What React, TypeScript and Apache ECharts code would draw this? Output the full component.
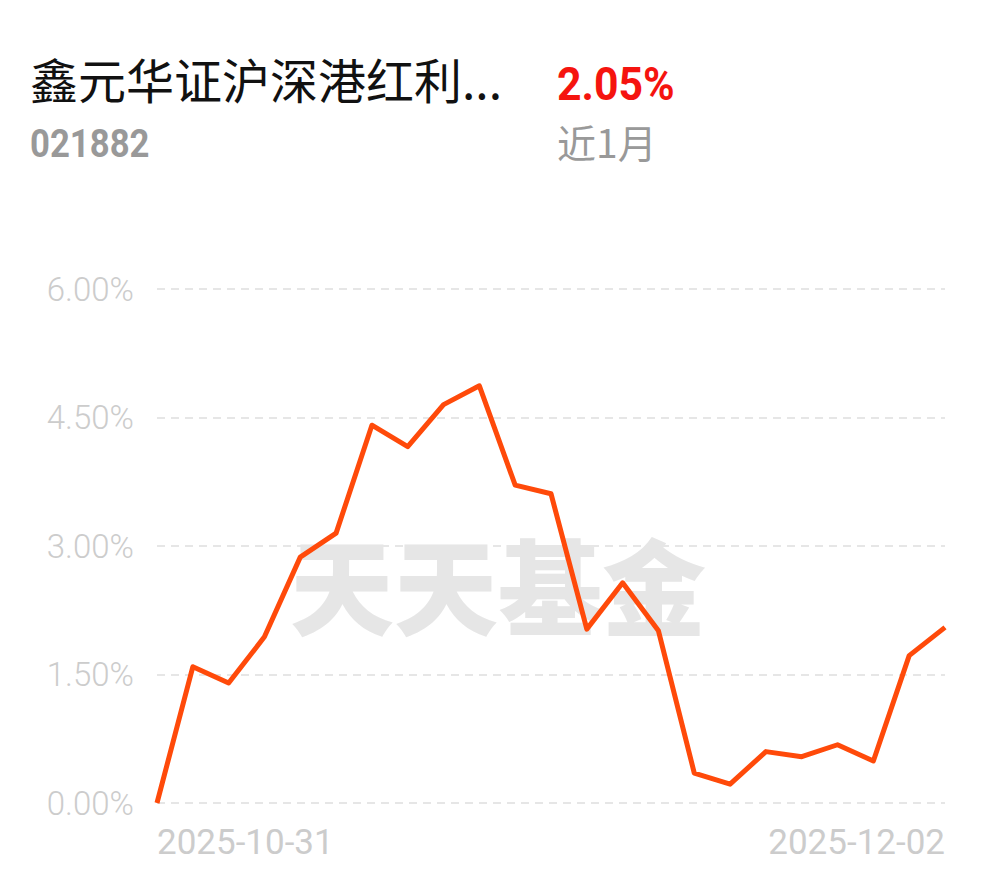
import React, { useEffect, useRef } from "react";
import * as echarts from "echarts";

const dates = [
  "2025-10-31",
  "2025-11-03", "2025-11-04", "2025-11-05", "2025-11-06", "2025-11-07",
  "2025-11-10", "2025-11-11", "2025-11-12", "2025-11-13", "2025-11-14",
  "2025-11-17", "2025-11-18", "2025-11-19", "2025-11-20", "2025-11-21",
  "2025-11-24", "2025-11-25", "2025-11-26", "2025-11-27", "2025-11-28",
  "2025-12-01", "2025-12-02",
];
const returns = [
  0.0, 1.59, 1.4, 1.94, 2.87, 3.15, 4.41, 4.16, 4.65, 4.87, 3.71, 3.61,
  2.03, 2.57, 2.01, 0.35, 0.22, 0.6, 0.54, 0.68, 0.49, 1.72, 2.05,
];
const fundName = "鑫元华证沪深港红利...";
const fundCode = "021882";
const periodReturn = "2.05%";
const periodLabel = "近1月";
const watermark = "天天基金";

export default function App() {
  const ref = useRef<HTMLDivElement>(null);
  useEffect(() => {
    if (!ref.current) return;
    const chart = echarts.init(ref.current, null, { renderer: "svg" });
    const last = dates.length - 1;
    chart.setOption({
      animation: false,
      backgroundColor: "#ffffff",
      grid: { left: 157, right: 45, top: 289, bottom: 75, containLabel: false },
      graphic: [
        {
          type: "text",
          left: 30,
          top: 54,
          style: {
            text: fundName,
            fontSize: 48,
            fill: "#111111",
            fontFamily: "Noto Sans CJK SC",
          },
        },
        {
          type: "text",
          x: 557,
          y: 60,
          scaleX: 0.91,
          style: {
            text: periodReturn,
            fontSize: 47,
            fontWeight: "bold",
            fill: "#f5140f",
            fontFamily: "Roboto",
          },
        },
        {
          type: "text",
          x: 30,
          y: 124,
          scaleX: 0.89,
          style: {
            text: fundCode,
            fontSize: 39,
            fontWeight: "bold",
            fill: "#999999",
            fontFamily: "Roboto",
          },
        },
        {
          type: "text",
          left: 557,
          top: 121,
          style: {
            text: periodLabel,
            fontSize: 39,
            fill: "#999999",
            fontFamily: "Noto Sans CJK SC",
          },
        },
        {
          type: "text",
          left: 290,
          top: 530,
          z: -10,
          style: {
            text: watermark,
            fontSize: 104,
            fontWeight: 900,
            fill: "#e6e6e6",
            fontFamily: "Noto Sans CJK SC",
          },
        },
      ],
      xAxis: {
        type: "category",
        data: dates,
        boundaryGap: false,
        axisLine: { show: false },
        axisTick: { show: false },
        axisLabel: {
          interval: (i: number) => i === 0 || i === last,
          alignMinLabel: "left",
          alignMaxLabel: "right",
          color: "#cccccc",
          fontSize: 35,
          fontFamily: "Roboto",
          margin: 22,
        },
        splitLine: { show: false },
      },
      yAxis: {
        type: "value",
        min: 0,
        max: 6,
        interval: 1.5,
        axisLine: { show: false },
        axisTick: { show: false },
        axisLabel: {
          formatter: (v: number) => v.toFixed(2) + "%",
          color: "#cccccc",
          fontSize: 33,
          fontWeight: 300,
          fontFamily: "Roboto",
          margin: 23,
        },
        splitLine: {
          show: true,
          lineStyle: { color: "#e6e6e6", width: 2, type: [8, 6] },
        },
      },
      series: [
        {
          type: "line",
          data: returns,
          symbol: "none",
          lineStyle: { color: "#ff4a0a", width: 5, join: "round" },
          itemStyle: { color: "#ff4a0a" },
          z: 5,
        },
      ],
    });
    return () => chart.dispose();
  }, []);
  return (
    <div
      ref={ref}
      style={{ position: "absolute", left: 0, top: 0, width: 990, height: 878 }}
    />
  );
}
